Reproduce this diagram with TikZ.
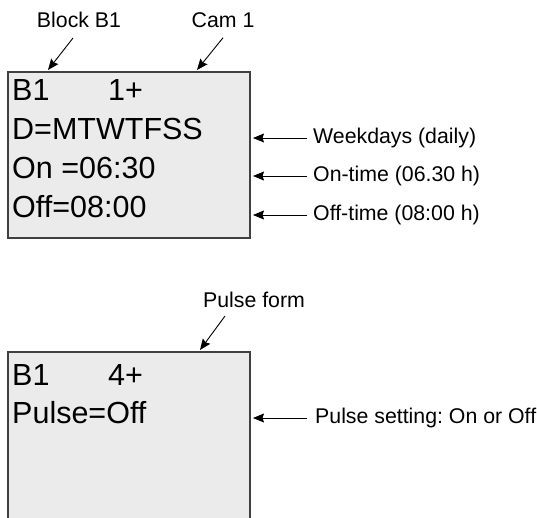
\documentclass[tikz,border=0pt]{standalone}
\usepackage{fontspec}
\setmainfont{Liberation Sans}
\usetikzlibrary{calc,arrows.meta}
\frenchspacing

\begin{document}
\begin{tikzpicture}[x=1pt,y=-1pt,
    lcd/.style={draw=black!75,fill=black!8,line width=1.6pt},
    screen/.style={anchor=base west,inner sep=0pt,font=\fontsize{30.5}{30.5}\selectfont},
    note/.style={inner sep=0pt,font=\fontsize{21.3}{21.3}\selectfont},
    pointer/.style={-{Stealth[length=11pt,width=9pt,inset=1.5pt]},line width=0.9pt}]
    \useasboundingbox (0,0) rectangle (537,518);
    \clip (0,0) rectangle (537,518);
    \pgfmathsetmacro{\xl}{8}	%left edge of the displays
    \pgfmathsetmacro{\xr}{250}
    \pgfmathsetmacro{\gap}{3}

    \coordinate (P1) at (\xl,72);
    \coordinate (Q1) at (\xr,238);
    \coordinate (P2) at (\xl,352);
    \coordinate (Q2) at (\xr,540);

    \draw[lcd] (P1) rectangle (Q1);
    \draw[lcd] (P2) rectangle (Q2);

    % first display
    \node[screen] (blk1) at (12,101) {B1};
    \node[screen] (cam1) at (108,101) {1+};
    \node[screen] (days) at (12,140) {D=MTWTFSS};
    \node[screen] (ontime) at (12,179) {On =06:30};
    \node[screen] (offtime) at (12,218) {Off=08:00};

    % second display
    \node[screen] (blk2) at (12,385) {B1};
    \node[screen] (cam4) at (108,385) {4+};
    \node[screen] (pulse) at (12,423) {Pulse=Off};

    % labels on top
    \node[note] (lblBlock) at (79,20) {Block B1};
    \node[note] (lblCam) at (223,20) {Cam 1};
    \node[note] (lblForm) at (254,300) {Pulse form};

    \coordinate (tipBlock) at (48,70);
    \coordinate (tipCam) at (197,70);
    \coordinate (tipForm) at (200,350);

    \draw[pointer] ($(lblBlock.south)+(-6,10)$) -- (tipBlock);
    \draw[pointer] ($(lblCam.south)+(0,10)$) -- (tipCam);
    \draw[pointer] ($(lblForm.south)+(-29,8)$) -- (tipForm);

    % labels on the right
    \node[note,anchor=west] (lblDays) at (313,138) {Weekdays (daily)};
    \node[note,anchor=west] (lblOn) at (313,176) {On-time (06.30 h)};
    \node[note,anchor=west] (lblOff) at (313,215) {Off-time (08:00 h)};
    \node[note,anchor=west] (lblPulse) at (315,418) {Pulse setting: On or Off};

    \draw[pointer] ($(lblDays.west)+(-6,0)$) -- ($(lblDays.west -| Q1)+(\gap,0)$);
    \draw[pointer] ($(lblOn.west)+(-6,0)$) -- ($(lblOn.west -| Q1)+(\gap,0)$);
    \draw[pointer] ($(lblOff.west)+(-6,0)$) -- ($(lblOff.west -| Q1)+(\gap,0)$);
    \draw[pointer] ($(lblPulse.west)+(-8,0)$) -- ($(lblPulse.west -| Q2)+(\gap,0)$);
\end{tikzpicture}
\end{document}
